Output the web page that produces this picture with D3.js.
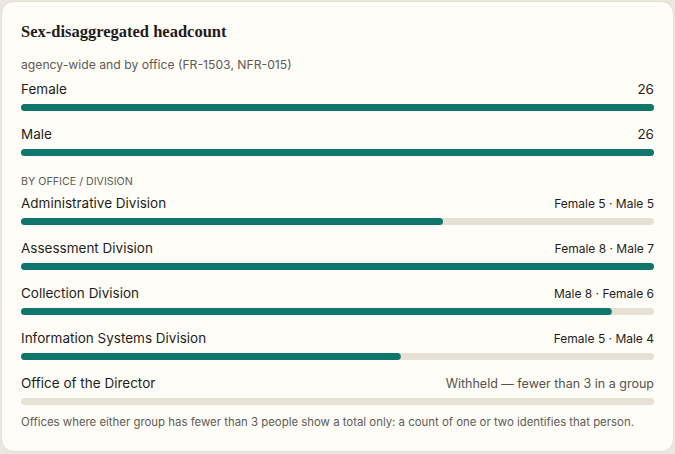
<!DOCTYPE html>
<html lang="en">
<head>
<meta charset="UTF-8">
<title>Sex-disaggregated headcount</title>
<script src="https://d3js.org/d3.v7.min.js"></script>
<style>
  html, body { margin: 0; padding: 0; background: #ece7de; }
  svg { display: block; }
</style>
</head>
<body>
<svg id="chart" width="675" height="454"></svg>
<script>
  // agency-wide totals
  const sexLabels = ["Female", "Male"];
  const sexCounts = [26, 26];

  // by office / division
  const offices = ["Administrative Division", "Assessment Division", "Collection Division",
                   "Information Systems Division", "Office of the Director"];
  const officeFemale = [5, 8, 6, 5, null];
  const officeMale = [5, 7, 8, 4, null];
  const withheldNote = "Withheld — fewer than 3 in a group";

  const svg = d3.select("#chart");
  const W = 675, H = 454;
  const left = 21, right = 654;
  const teal = "#10766b", track = "#e7e0d5";
  const sans = "Inter, 'Noto Sans', sans-serif";

  // carte
  svg.append("rect")
    .attr("x", 1.5).attr("y", 1.5).attr("width", W - 3).attr("height", H - 4)
    .attr("rx", 12).attr("fill", "#fffdf8").attr("stroke", "#e4ded3");

  svg.append("text").attr("x", left).attr("y", 37)
    .attr("font-family", "'Liberation Serif', serif").attr("font-weight", "bold")
    .attr("font-size", 16.5).attr("fill", "#1d1c1a")
    .text("Sex-disaggregated headcount");

  svg.append("text").attr("x", left).attr("y", 69)
    .attr("font-family", sans).attr("font-size", 12.2).attr("fill", "#5e5b55")
    .text("agency-wide and by office (FR-1503, NFR-015)");

  const x = d3.scaleLinear().range([left, right]);

  // une ligne : libellé, valeur à droite, piste + barre
  function row(y, label, value, max, rightText, rightSize, rightColor) {
    x.domain([0, max]);
    svg.append("text").attr("x", left).attr("y", y)
      .attr("font-family", sans).attr("font-size", 13.5).attr("fill", "#1f1e1b")
      .text(label);
    svg.append("text").attr("x", right).attr("y", y).attr("text-anchor", "end")
      .attr("font-family", sans).attr("font-size", rightSize)
      .attr("fill", rightColor)
      .text(rightText);
    svg.append("rect").attr("x", x(0)).attr("y", y + 10)
      .attr("width", x(max) - x(0)).attr("height", 7).attr("rx", 3.5)
      .attr("fill", track);
    if (value > 0) {
      svg.append("rect").attr("x", x(0)).attr("y", y + 10)
        .attr("width", x(value) - x(0)).attr("height", 7).attr("rx", 3.5)
        .attr("fill", teal);
    }
  }

  const sexMax = d3.max(sexCounts);
  sexLabels.forEach((s, i) =>
    row(94 + i * 45, s, sexCounts[i], sexMax, String(sexCounts[i]), 13.5, "#1f1e1b"));

  svg.append("text").attr("x", left).attr("y", 185)
    .attr("font-family", sans).attr("font-size", 10.7).attr("fill", "#5e5b55")
    .text("BY OFFICE / DIVISION");

  const totals = offices.map((o, i) => officeFemale[i] == null ? 0 : officeFemale[i] + officeMale[i]);
  const officeMax = d3.max(totals);
  offices.forEach((o, i) => {
    if (officeFemale[i] == null) {
      row(208 + i * 45, o, 0, officeMax, withheldNote, 12.5, "#55524c");
      return;
    }
    const txt = officeMale[i] > officeFemale[i]
      ? `Male ${officeMale[i]} · Female ${officeFemale[i]}`
      : `Female ${officeFemale[i]} · Male ${officeMale[i]}`;
    row(208 + i * 45, o, totals[i], officeMax, txt, 12, "#1f1e1b");
  });

  svg.append("text").attr("x", left).attr("y", 426)
    .attr("font-family", sans).attr("font-size", 11.4).attr("fill", "#5e5b55")
    .text("Offices where either group has fewer than 3 people show a total only: a count of one or two identifies that person.");
</script>
</body>
</html>
